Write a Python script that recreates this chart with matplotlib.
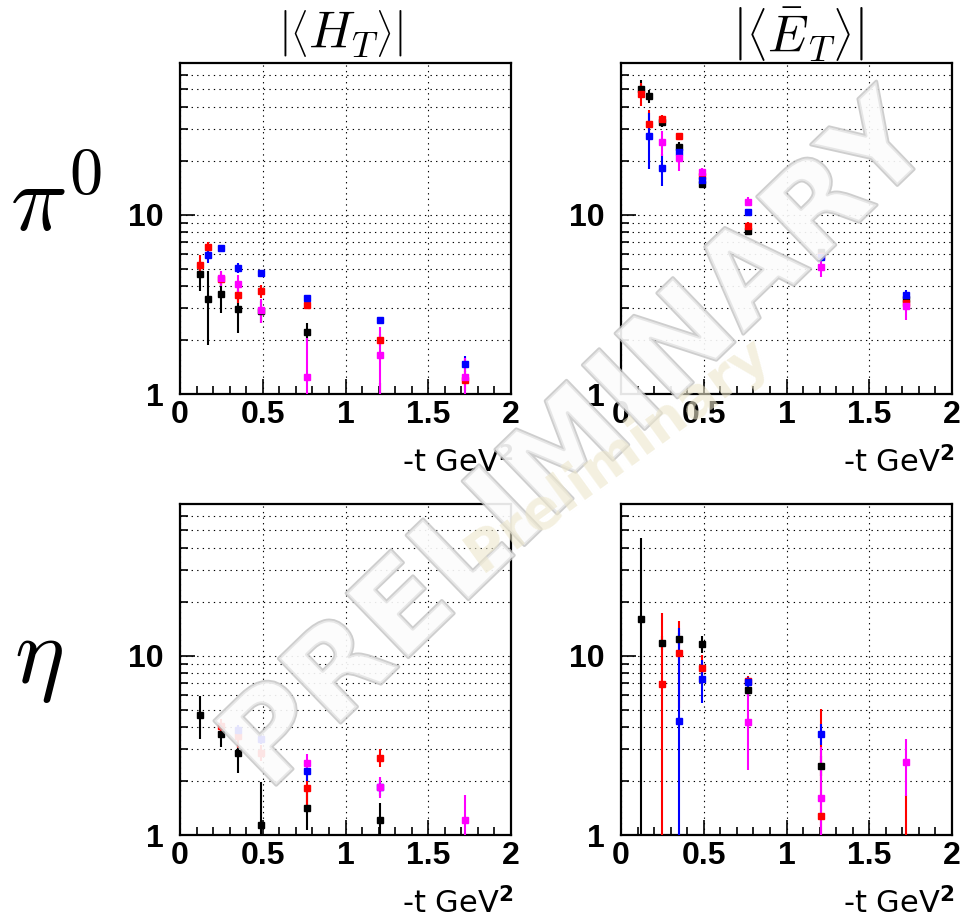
import numpy as np
import matplotlib.pyplot as plt
from matplotlib import patheffects as pe

nan = np.nan

# -t bins (GeV^2)
t = [0.12, 0.17, 0.25, 0.35, 0.49, 0.77, 1.21, 1.72]
colors = ['black', 'red', 'blue', 'magenta']

# pi0, |<H_T>|
pi_ht_black = [4.67, 3.37, 3.63, 2.99, 2.90, 2.23, 0.70, nan]
pi_ht_black_err = [0.90, 1.50, 0.80, 0.80, 0.40, 0.25, 0.45, nan]
pi_ht_red = [5.22, 6.56, 4.40, 3.56, 3.75, 3.15, 2.00, 1.19]
pi_ht_red_err = [0.70, 0.45, 0.40, 0.35, 0.30, 0.15, 0.15, 0.15]
pi_ht_blue = [nan, 5.94, 6.53, 5.04, 4.73, 3.42, 2.58, 1.47]
pi_ht_blue_err = [nan, 0.60, 0.20, 0.30, 0.20, 0.15, 0.12, 0.15]
pi_ht_mag = [nan, nan, 4.42, 4.13, 2.94, 1.25, 1.65, 1.24]
pi_ht_mag_err = [nan, nan, 0.40, 0.50, 0.45, 0.80, 0.70, 0.35]

# pi0, |<Ebar_T>|
pi_et_black = [50.4, 45.8, 32.8, 23.9, 14.9, 8.07, 6.15, 3.38]
pi_et_black_err = [6.0, 4.0, 2.0, 1.5, 0.8, 0.4, 0.3, 0.25]
pi_et_red = [47.2, 32.1, 34.2, 27.4, 16.4, 8.68, 5.90, 3.21]
pi_et_red_err = [7.0, 6.0, 1.5, 1.2, 1.0, 0.4, 0.3, 0.2]
pi_et_blue = [nan, 27.4, 18.1, 22.3, 15.5, 10.4, 5.77, 3.57]
pi_et_blue_err = [nan, 9.5, 3.6, 1.5, 0.8, 0.4, 0.3, 0.25]
pi_et_mag = [nan, nan, 25.3, 20.6, 17.2, 11.8, 5.08, 3.10]
pi_et_mag_err = [nan, nan, 4.0, 3.0, 1.0, 0.7, 0.6, 0.5]

# eta, |<H_T>|
eta_ht_black = [4.68, nan, 3.65, 2.88, 1.13, 1.41, 1.21, nan]
eta_ht_black_err = [1.25, nan, 0.55, 0.65, 0.85, 0.35, 0.30, nan]
eta_ht_red = [nan, nan, 4.06, 3.57, 2.88, 1.82, 2.70, nan]
eta_ht_red_err = [nan, nan, 0.40, 0.50, 0.30, 0.45, 0.30, nan]
eta_ht_blue = [nan, nan, nan, 3.83, 3.42, 2.26, 1.86, nan]
eta_ht_blue_err = [nan, nan, nan, 0.30, 0.20, 0.25, 0.20, nan]
eta_ht_mag = [nan, nan, nan, nan, nan, 2.52, 1.86, 1.21]
eta_ht_mag_err = [nan, nan, nan, nan, nan, 0.30, 0.25, 0.46]

# eta, |<Ebar_T>|
eta_et_black = [16.0, nan, 11.8, 12.4, 11.6, 6.40, 2.44, nan]
eta_et_black_err = [29.0, nan, 1.0, 1.0, 1.3, 0.5, 0.3, nan]
eta_et_red = [nan, nan, 6.95, 10.3, 8.53, 7.20, 1.27, 0.70]
eta_et_red_err = [nan, nan, 10.3, 5.2, 1.5, 0.5, 3.8, 0.97]
eta_et_blue = [nan, nan, nan, 4.33, 7.41, 7.13, 3.67, nan]
eta_et_blue_err = [nan, nan, nan, 10.0, 2.0, 0.5, 0.5, nan]
eta_et_mag = [nan, nan, nan, nan, nan, 4.26, 1.60, 2.55]
eta_et_mag_err = [nan, nan, nan, nan, nan, 1.95, 1.50, 0.90]

panels = [
    ([pi_ht_black, pi_ht_red, pi_ht_blue, pi_ht_mag],
     [pi_ht_black_err, pi_ht_red_err, pi_ht_blue_err, pi_ht_mag_err]),
    ([pi_et_black, pi_et_red, pi_et_blue, pi_et_mag],
     [pi_et_black_err, pi_et_red_err, pi_et_blue_err, pi_et_mag_err]),
    ([eta_ht_black, eta_ht_red, eta_ht_blue, eta_ht_mag],
     [eta_ht_black_err, eta_ht_red_err, eta_ht_blue_err, eta_ht_mag_err]),
    ([eta_et_black, eta_et_red, eta_et_blue, eta_et_mag],
     [eta_et_black_err, eta_et_red_err, eta_et_blue_err, eta_et_mag_err]),
]

xticks = [0, 0.5, 1, 1.5, 2]
xticklabels = ['0', '0.5', '1', '1.5', '2']

fig = plt.figure(figsize=(9.66, 9.22), dpi=100)

w = 331 / 966
h = 331 / 922
positions = [(180 / 966, 1 - 394 / 922), (621 / 966, 1 - 394 / 922),
             (180 / 966, 1 - 835 / 922), (621 / 966, 1 - 835 / 922)]

dots = (0, (1.2, 3.8))
for (x0, y0), (vals, errs) in zip(positions, panels):
    ax = fig.add_axes([x0, y0, w, h])
    for v, e, c in zip(vals, errs, colors):
        ax.errorbar(t, v, yerr=e, fmt='s', color=c, mec=c, ms=4.5,
                    elinewidth=1.5, capsize=0, zorder=3)
    ax.set_yscale('log')
    ax.set_xlim(0, 2)
    ax.set_ylim(1, 70)
    ax.set_xticks(xticks)
    ax.set_xticklabels(xticklabels, fontfamily='Liberation Sans',
                       fontweight='bold', fontsize=23)
    ax.set_xticks(np.arange(0.1, 2.0, 0.1), minor=True)
    ax.set_yticks([1, 10])
    ax.set_yticklabels(['1', '10'], fontfamily='Liberation Sans',
                       fontweight='bold', fontsize=23)
    ax.set_yticks([2, 3, 4, 5, 6, 7, 8, 9, 20, 30, 40, 50, 60], minor=True)
    ax.set_yticklabels([], minor=True)
    ax.tick_params(which='major', direction='in', length=11, width=1.2)
    ax.tick_params(which='minor', direction='in', length=6, width=1.2)
    ax.tick_params(axis='x', pad=4)
    ax.tick_params(axis='y', pad=12)
    ax.grid(True, axis='y', which='both', color='black', lw=0.8, ls=dots)
    ax.grid(True, axis='x', which='major', color='black', lw=0.8, ls=dots)
    ax.set_axisbelow(True)
    for s in ax.spines.values():
        s.set_linewidth(1.6)
    # x axis title under each panel
    fig.text(x0 + w + 2 / 966, y0 - 78 / 922, r'-t GeV$^{\mathbf{2}}$',
             fontsize=22, fontfamily='DejaVu Sans', ha='right', va='baseline')

# column titles
fig.text(0.352, 0.963, r'$\left|\left\langle H_T \right\rangle\right|$',
         fontsize=37, math_fontfamily='cm', ha='center', va='center')
fig.text(0.826, 0.963, r'$\left|\left\langle \bar{E}_T \right\rangle\right|$',
         fontsize=37, math_fontfamily='cm', ha='center', va='center')

# row labels
fig.text(0.058, 0.778, r'$\pi^0$', fontsize=68, math_fontfamily='cm',
         ha='center', va='center')
fig.text(0.040, 0.285, r'$\eta$', fontsize=68, math_fontfamily='cm',
         ha='center', va='center')

# watermark
fig.text(0.600, 0.517, 'PRELIMINARY', rotation=44, ha='center', va='center',
         fontsize=88, fontweight='bold', fontfamily='DejaVu Sans',
         color='#fcfcfc', alpha=0.55, zorder=10,
         path_effects=[pe.Stroke(linewidth=2.6, foreground='#c2c2c2', alpha=0.8,
                                 joinstyle='round'), pe.Normal()])
fig.text(0.640, 0.507, 'Preliminary', rotation=36, ha='center', va='center',
         fontsize=40, fontweight='bold', fontfamily='DejaVu Sans',
         color='#ede7cc', alpha=0.6, zorder=11)

fig.savefig('out.png', dpi=100)
